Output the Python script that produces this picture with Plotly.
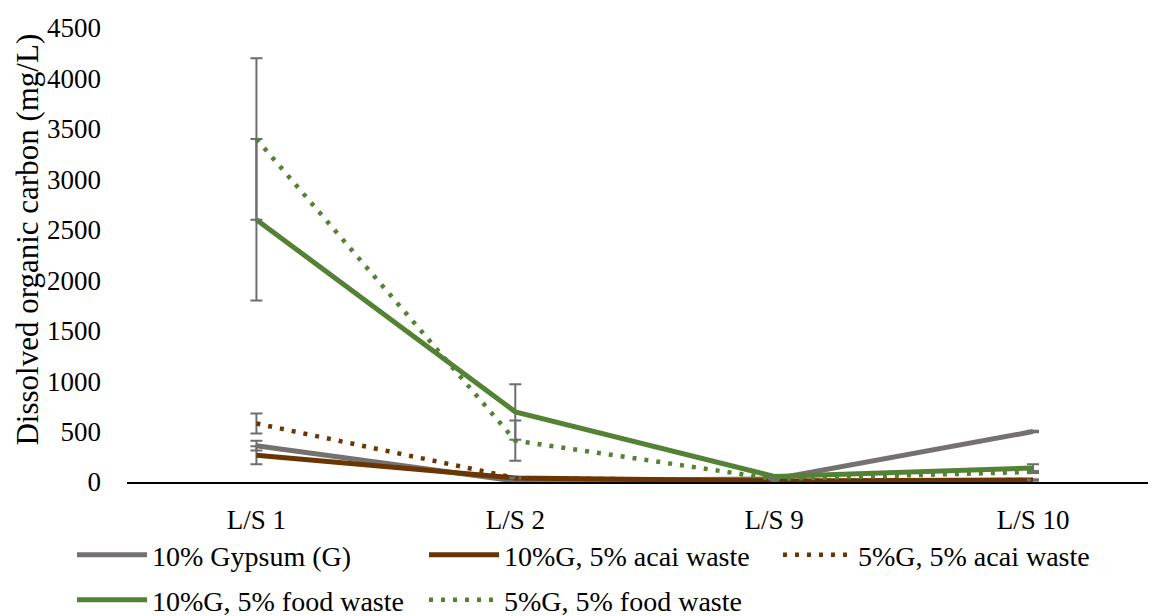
import plotly.graph_objects as go

categories = ["L/S 1", "L/S 2", "L/S 9", "L/S 10"]

names = ["10% Gypsum (G)", "10%G, 5% acai waste", "5%G, 5% acai waste",
         "10%G, 5% food waste", "5%G, 5% food waste"]

gypsum = [360, 10, 30, 500]
gypsum_err = [48, 5, 5, 8]
acai10 = [265, 40, 10, 20]
acai10_err = [90, 5, 3, 5]
acai5 = [580, 40, 10, 20]
acai5_err = [100, 5, 3, 5]
food10 = [2600, 695, 55, 140]
food10_err = [800, 275, 10, 35]
food5 = [3400, 410, 30, 100]
food5_err = [800, 200, 5, 10]

y_ticks = [0, 500, 1000, 1500, 2000, 2500, 3000, 3500, 4000, 4500]

series = [
    (names[0], gypsum, gypsum_err, "#767171", "solid"),
    (names[1], acai10, acai10_err, "#6A3500", "solid"),
    (names[2], acai5, acai5_err, "#6A3500", "4px,8px"),
    (names[3], food10, food10_err, "#548235", "solid"),
    (names[4], food5, food5_err, "#548235", "4px,8px"),
]

# page body adds an 8px offset; figure is sized to fit the window
OFF = 8
W, H = 1156 - OFF, 616 - OFF

# legend placement in figure pixels: (left x, centre y)
legend_pos = [(64, 547), (416, 547), (770, 547), (64, 592), (416, 592)]
legend_ids = ["legend", "legend2", "legend3", "legend4", "legend5"]

FONT = "Liberation Serif, Times New Roman, serif"

L, T = 126.5 - OFF, 28 - OFF
B = H - (482 - OFF)
plot_w = W - L
plot_h = H - T - B

fig = go.Figure()
for (name, vals, errs, color, dash), leg in zip(series, legend_ids):
    fig.add_trace(go.Scatter(
        x=categories, y=vals, name=name, mode="lines",
        line=dict(color=color, width=5 if dash == "solid" else 4.5, dash=dash),
        error_y=dict(type="data", array=errs, visible=True,
                     color="#6E6E6E", thickness=2, width=6),
        legend=leg,
    ))

legend_layouts = {}
for leg, (lx, ly) in zip(legend_ids, legend_pos):
    legend_layouts[leg] = dict(
        orientation="h", xref="container", yref="container",
        x=lx / W, y=(H - ly) / H, xanchor="left", yanchor="middle",
        itemwidth=70, font=dict(family=FONT, size=28, color="black"),
        bgcolor="rgba(0,0,0,0)")

fig.update_layout(
    width=W, height=H,
    margin=dict(l=L, r=0, t=T, b=B, autoexpand=False),
    plot_bgcolor="white", paper_bgcolor="white",
    font=dict(family=FONT, size=27, color="black"),
    xaxis=dict(type="category", range=[-0.5, -0.5 + (plot_w + OFF) / 261.0],
               showline=True, linecolor="black", linewidth=1.5,
               showgrid=False, zeroline=False, ticks="",
               ticklabelstandoff=13, automargin=False,
               tickfont=dict(family=FONT, size=27, color="black")),
    yaxis=dict(range=[0, 4500], tickvals=y_ticks, showgrid=False,
               zeroline=False, showline=False, ticks="",
               ticklabelstandoff=25, automargin=False,
               tickfont=dict(family=FONT, size=27, color="black")),
    showlegend=True,
    annotations=[dict(
        text="Dissolved organic carbon (mg/L)", textangle=-90,
        xref="paper", yref="paper",
        x=(27 - 126.5) / plot_w, y=(482 - 240) / plot_h,
        xanchor="center", yanchor="middle", showarrow=False,
        font=dict(family=FONT, size=31, color="black"))],
    **legend_layouts,
)

fig.write_html("out.html")
